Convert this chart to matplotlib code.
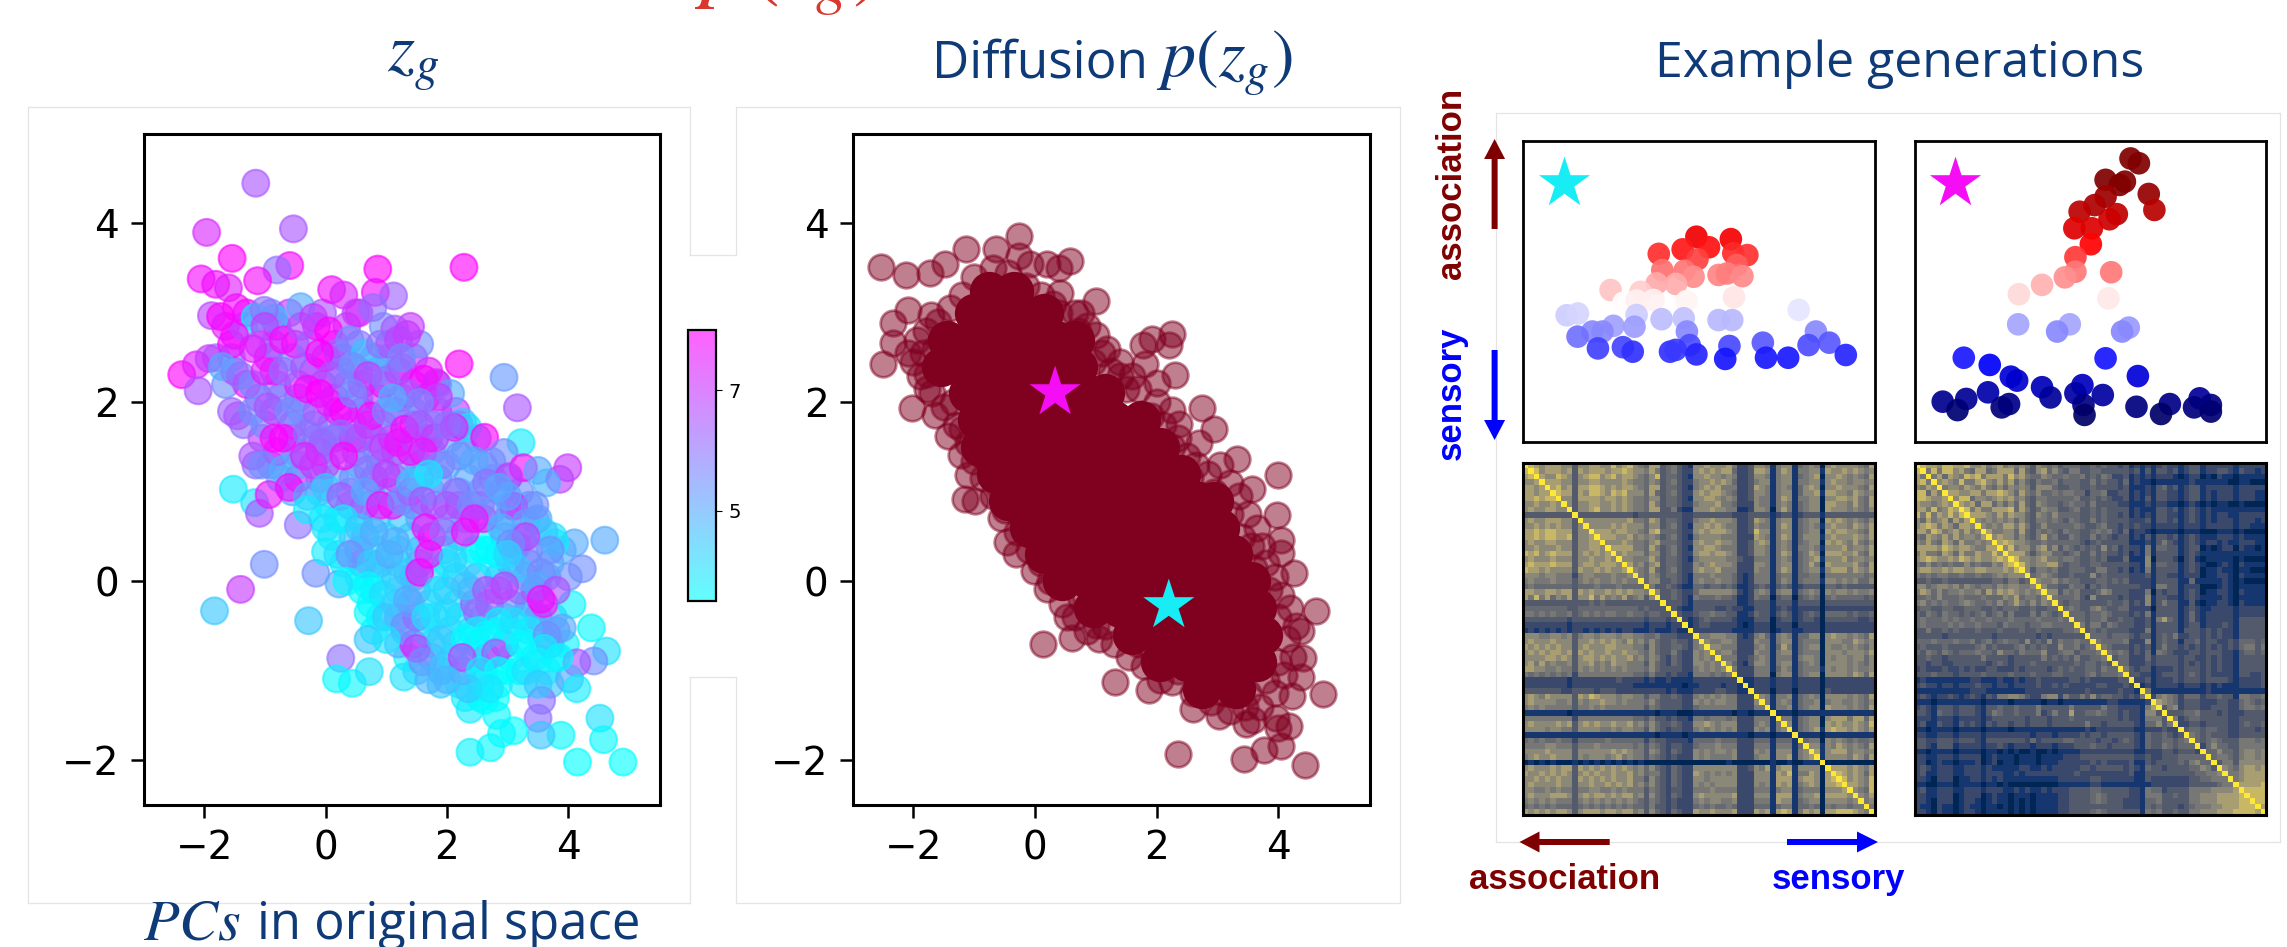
import numpy as np
import matplotlib
matplotlib.use("Agg")
import matplotlib.pyplot as plt
import matplotlib.patches as mpatches
from matplotlib.lines import Line2D
from matplotlib.transforms import IdentityTransform

# ---------- values ----------
p1_x = [-1.15,-1.96,-0.53,-1.54,-0.59,-0.8,-1.12,-2.05,-1.81,-1.6,0.86,2.28,0.82,1.12,0.1,0.3,-1.47,-1.88,-1.16,-0.85,-1.73,-0.41,-1.01,0.5,0.78,2.2,2.94,3.16,-2.37,-2.13,-1.92,-2.1,1.14,1.34,1.26,1.62,1.82,2.06,1.86,2.26,2.34,2.12,2.62,3.22,2.94,2.74,3.26,3.02,3.5,3.99,3.86,3.64,3.1,3.46,4.6,4.1,3.78,4.23,-1.52,-1.17,-1.09,-0.93,-0.45,-1.01,-1.4,-1.83,-0.28,-0.16,0.22,0.25,0.18,0.44,0.72,1.29,4.06,3.9,4.38,4.63,4.42,4.14,4.02,4.14,3.56,3.5,4.52,4.58,4.9,4.15,3.88,3.55,3.1,2.9,2.72,2.38,2.82,2.38,2.62,
 -1.5,-1.2,-1.0,-0.7,-0.4,-0.2,0.05,0.2,0.4,0.65,0.9,1.2,1.25,-1.7,-1.4,-1.2,-1.0,-0.7,-0.35,-0.1,0.1,0.45,0.7,1.0,1.35,1.55,-1.45,-1.2,-0.95,-0.6,-0.3,-0.1,0.05,0.3,0.45,0.75,1.0,1.1,1.3,1.55,1.8,2.0,-0.85,-0.7,-0.3,-0.05,0.25,0.55,0.95,1.2,1.6,1.9,2.2,2.45,-1.2,-1.05,-0.7,-0.35,-0.2,0.3,0.7,1.0,1.4,1.7,2.15,-0.6,-0.3,0.0,0.25,0.65,0.9,1.25,1.6,2.0,2.4,2.75,
 -0.3,0.0,0.3,0.55,0.8,1.15,1.65,1.95,2.45,2.9,3.3,3.6,0.0,0.2,0.4,0.75,1.05,1.35,1.7,2.1,2.6,2.85,3.15,3.15,3.55,0.35,0.7,0.95,1.35,1.55,1.85,2.3,2.65,2.95,3.5,3.8,3.55,0.7,1.0,1.3,1.65,2.0,2.5,2.5,2.85,3.1,3.35,3.65,0.7,1.0,1.5,1.9,2.3,2.65,2.8,3.2,3.6,3.85,1.6,1.95,2.25,2.55,2.85,3.3,3.5,1.7,2.0,2.35,2.7,3.5,3.0,3.45,2.65,2.85,3.3,3.7,3.05,2.3,3.0]
p1_y = [4.45,3.9,3.94,3.61,3.53,3.48,3.36,3.38,3.32,3.28,3.49,3.51,3.23,3.19,3.26,3.2,3.06,2.97,2.95,2.94,2.96,3.07,3.03,3.0,3.06,2.43,2.28,1.94,2.31,2.42,2.49,2.13,2.82,2.76,2.39,2.26,2.22,2.1,2.06,1.78,1.72,1.72,1.61,1.55,1.44,1.34,1.27,1.17,1.24,1.27,1.14,1.1,0.84,0.68,0.46,0.43,0.43,0.14,1.03,0.88,0.76,0.97,0.63,0.19,-0.09,-0.33,-0.44,0.09,-0.03,-0.86,-1.09,-1.14,-1.01,-1.07,-0.26,-0.52,-0.52,-0.78,-0.89,-0.91,-1.09,-1.2,-1.33,-1.53,-1.53,-1.77,-2.02,-2.02,-1.72,-1.72,-1.67,-1.7,-1.86,-1.91,-1.5,-1.43,-1.33,
 2.75,2.6,2.85,2.7,2.85,2.95,2.8,2.55,2.7,2.55,2.65,2.7,2.5,2.4,2.3,2.2,2.35,2.35,2.4,2.55,2.3,2.4,2.3,2.25,2.1,2.0,1.85,1.9,1.95,1.9,2.15,2.1,2.0,1.9,2.1,1.85,1.9,2.05,1.7,1.75,1.6,1.75,1.6,1.6,1.65,1.55,1.65,1.6,1.5,1.55,1.45,1.3,1.4,1.35,1.4,1.3,1.25,1.4,1.3,1.4,1.25,1.2,1.1,1.2,1.0,1.05,0.95,1.05,0.95,1.0,0.85,0.9,0.9,0.85,0.85,0.8,
 0.8,0.6,0.7,0.6,0.55,0.45,0.6,0.55,0.7,0.6,0.65,0.55,0.33,0.3,0.3,0.2,0.3,0.1,0.3,0.25,0.35,0.3,0.4,0.15,0.1,0.0,-0.05,-0.15,-0.2,0.1,-0.1,-0.05,-0.1,-0.05,-0.05,-0.1,-0.2,-0.35,-0.4,-0.5,-0.4,-0.35,-0.35,-0.55,-0.45,-0.45,-0.55,-0.6,-0.65,-0.65,-0.75,-0.65,-0.65,-0.6,-0.8,-0.7,-0.75,-0.85,-0.9,-0.95,-0.85,-1.0,-1.0,-1.0,-0.9,-1.1,-1.1,-1.2,-1.2,-1.15,0.95,0.85,1.1,1.05,0.5,0.35,0.42,0.55,0.3]
p1_c = [6.5,7.3,6.5,8,7.8,6,7.8,7.8,7.8,7.5,8,8,7.8,6.3,7.8,7.3,7.8,6.8,3.8,4.5,8,5,6,7,6,8,5.3,6.5,8,7.5,7,6.5,6.5,7,7,8,7.5,5,7,4.5,4,7.5,8,3.8,5.5,5.5,7.8,7,5,7,6.8,4.8,7.8,5,5,5,3.8,5.5,3.8,4,6.5,7.6,6,5.5,7,4.5,4.5,5.5,5,6,3.6,3.6,4,4,3.7,5,3.6,4,5.5,6.5,5,3.8,6,6,4,3.6,3.5,3.5,3.6,4.5,3.5,3.6,3.6,3.7,3.6,3.8,3.5,
 7.8,7.5,7,7.8,6.5,7,8,6,5.5,4.5,6,6.8,5.5,5,6,5.5,7.5,6,6.5,8,6.5,5.5,7,6,6.5,5.5,6.5,5.5,6.5,5.5,7.8,8,7.5,8,5.5,7.8,5.5,4.8,7.8,6.5,7,6,7.9,8,6,6.2,6,6.5,7,7.6,7.6,5.8,5.5,5,6.5,5.5,5,7.5,7,7.9,6,7,4.5,3.8,6,7.8,5,4.5,6.5,5,7.8,5.5,6.5,6.5,5.5,5.5,
 3.8,4,3.8,4.5,5,5,7.8,6,7.6,4.8,5,4.5,3.8,4,5.5,4.5,5,4.5,7.8,4.2,3.5,3.6,5.5,4.5,5.5,3.6,3.6,4.2,5,7.9,4.2,4.5,6.5,6.8,5,6.6,7.8,3.6,4.5,5.5,4,4.2,6,3.8,3.7,4,3.8,5.5,4.5,4,7,4.5,3.6,3.6,6.5,3.6,3.7,3.7,5.5,4.5,7,3.8,3.5,4,3.7,4.8,4.8,4.5,4,4.5,5,5.5,6,5,7,5.5,5.5,7.8,4.2]

# denser interior of the first cloud: (x, y, colour value)
p1_more = [(2.3,-1.3,3.8),(2.55,-1.3,3.5),(2.8,-1.3,3.5),
 (1.9,-1.15,4.5),(2.2,-1.15,4),(2.55,-1.15,3.8),(2.85,-1.15,3.6),(3.25,-1.15,3.8),(3.7,-1.15,4.5),
 (1.5,-1.0,4.5),(1.9,-1.0,5),(2.25,-1.0,5.5),(2.6,-1.0,4),(2.95,-1.0,3.5),(3.2,-1.0,3.7),(3.65,-1.0,3.8),
 (1.35,-0.85,3.7),(1.75,-0.85,5),(2.1,-0.85,4),(2.45,-0.85,3.5),(2.65,-0.85,6.8),(3.05,-0.85,3.5),(3.45,-0.85,3.8),(3.8,-0.85,3.6),
 (1.2,-0.7,5),(1.45,-0.7,7.5),(1.75,-0.7,4.5),(2.15,-0.7,3.7),(2.5,-0.7,3.6),(2.95,-0.7,6.8),(3.3,-0.7,3.6),(3.7,-0.7,6),(3.95,-0.7,3.7),
 (0.8,-0.55,3.6),(1.3,-0.55,5),(1.65,-0.55,4),(2.05,-0.55,4.2),(2.4,-0.55,3.7),(2.75,-0.55,3.6),(3.05,-0.55,3.6),(3.5,-0.55,4),(3.8,-0.55,5.5),
 (0.9,-0.4,3.8),(1.2,-0.4,5.2),(1.5,-0.4,7),(1.8,-0.4,3.9),(2.2,-0.4,4),(2.6,-0.4,4),(2.95,-0.4,4),(3.25,-0.4,4.2),(3.5,-0.4,5.5),(3.75,-0.4,5),
 (0.75,-0.25,3.6),(1.15,-0.25,4.8),(1.4,-0.25,5.2),(1.7,-0.25,4),(2.15,-0.25,3.9),(2.45,-0.25,6.5),(2.7,-0.25,6.5),(3.05,-0.25,5.5),(3.35,-0.25,5),(3.6,-0.25,7.5),
 (0.6,-0.1,3.6),(0.8,-0.1,3.7),(1.2,-0.1,4.2),(1.5,-0.1,5),(2.0,-0.1,4.5),(2.4,-0.1,5.5),(2.85,-0.1,6.8),(3.2,-0.1,6.2),(3.45,-0.1,6.5),
 (0.55,0.05,3.6),(0.85,0.05,3.7),(1.15,0.05,4.5),(1.45,0.05,5),(1.8,0.05,4),(2.15,0.05,4.5),(2.5,0.05,5),(2.85,0.05,5.5),(3.3,0.05,5),(3.65,0.05,5.5),(4.0,0.05,5.5),
 (0.3,0.2,3.6),(0.6,0.2,5.2),(0.9,0.2,4.5),(1.2,0.2,4.5),(1.55,0.2,5),(2.0,0.2,3.9),(2.35,0.2,4.2),(2.75,0.2,3.6),(3.05,0.2,5),(3.35,0.2,6),(3.7,0.2,5),
 (0.55,0.35,5.5),(0.85,0.35,4.2),(1.2,0.35,4),(1.55,0.35,5),(1.95,0.35,4.2),(2.45,0.35,3.5),(2.7,0.35,3.6),(3.1,0.35,6.5),(3.35,0.35,5.5),(3.9,0.35,5),
 (0.1,0.5,3.8),(0.45,0.5,4.5),(0.65,0.5,5),(1.0,0.5,4),(1.4,0.5,4.5),(1.75,0.5,7.8),(2.2,0.5,4.5),(2.65,0.5,3.5),(2.95,0.5,5),(3.25,0.5,5),(3.75,0.5,4),
 (-0.05,0.7,3.8),(0.2,0.7,3.7),(0.55,0.7,3.8),(0.85,0.7,4.5),(1.25,0.7,4.5),(1.55,0.7,5),(2.0,0.7,5.5),(2.3,0.7,5),(2.6,0.7,7.8),(3.0,0.7,5.5),(3.5,0.7,5),
 (0.05,0.85,4),(0.4,0.85,5),(0.65,0.85,6.8),(1.1,0.85,7.8),(1.45,0.85,5.5),(1.8,0.85,7),(2.2,0.85,7),(2.55,0.85,6),(3.05,0.85,4.8),(3.35,0.85,5),
 (-0.55,1.0,5),(-0.1,1.0,4.5),(0.4,1.0,6),(0.75,1.0,4.8),(1.05,1.0,5),(1.4,1.0,7.5),(1.75,1.0,4.5),(2.2,1.0,5.5),(2.55,1.0,5.5),(2.9,1.0,6),(3.2,1.0,5.5),
 (-0.75,1.15,4.5),(-0.45,1.15,7.5),(-0.1,1.15,6.2),(0.15,1.15,5),(0.45,1.15,5.5),(0.8,1.15,7),(1.15,1.15,7),(1.55,1.15,5.5),(1.85,1.15,5.5),(2.35,1.15,5),(2.75,1.15,5.2),(3.0,1.15,5),
 (-1.15,1.3,6),(-0.9,1.3,5.5),(-0.45,1.3,5),(0.0,1.3,6.8),(0.55,1.3,5),(0.9,1.3,5.5),(1.25,1.3,5.5),(1.55,1.3,5),(2.0,1.3,5),(2.6,1.3,5.5),
 (-0.8,1.45,7.8),(-0.5,1.45,5),(-0.1,1.45,7.5),(0.15,1.45,5.5),(0.5,1.45,6),(0.85,1.45,5.5),(1.15,1.45,6.5),(1.4,1.45,7.8),(1.75,1.45,5),(2.3,1.45,5),
 (-1.05,1.6,7),(-0.55,1.6,5.8),(-0.15,1.6,5.8),(0.15,1.6,6.2),(0.45,1.6,7.8),(0.8,1.6,6),(1.1,1.6,7.8),(1.45,1.6,5.5),(1.7,1.6,7),(2.05,1.6,5),(2.5,1.6,5.5),
 (-1.35,1.75,6),(-1.0,1.75,5.5),(-0.55,1.75,6.5),(-0.2,1.75,6),(0.1,1.75,5.8),(0.45,1.75,6),(0.7,1.75,7.9),(0.95,1.75,6),(1.45,1.75,7.8),(1.75,1.75,5),(2.2,1.75,7.8),
 (-1.55,1.9,6.3),(-0.85,1.9,7),(-0.4,1.9,5.5),(-0.15,1.9,6.5),(0.2,1.9,7.5),(0.6,1.9,6.5),(1.15,1.9,7),(1.45,1.9,5.5),(1.85,1.9,6.5),(2.15,1.9,7),
 (-1.1,2.05,6.8),(-0.75,2.05,5.5),(-0.45,2.05,6),(0.15,2.05,7.9),(0.55,2.05,5.5),(0.85,2.05,7),(1.25,2.05,6),(1.65,2.05,7.5),
 (-1.65,2.2,5.5),(-1.3,2.2,7.5),(-0.8,2.2,6),(-0.45,2.2,7.5),(-0.05,2.2,7.9),(0.35,2.2,5.8),(0.6,2.2,7),(0.95,2.2,7.8),(1.45,2.2,7),(1.85,2.2,5.5),
 (-1.5,2.35,7),(-0.85,2.35,7.8),(-0.2,2.35,7),(0.25,2.35,5.2),(0.55,2.35,6.5),(0.85,2.35,5),(1.2,2.35,7.8),(1.7,2.35,7.5),
 (-1.8,2.5,6),(-1.55,2.5,5.5),(-0.95,2.5,7.8),(-0.55,2.5,5.5),(0.0,2.5,8),(0.3,2.5,5.5),(0.8,2.5,5.5),(1.05,2.5,4.8),(1.45,2.5,7),
 (-1.55,2.65,8),(-1.1,2.65,7),(-0.85,2.65,6),(-0.5,2.65,7.8),(-0.25,2.65,6),(0.15,2.65,7.5),(0.55,2.65,6),(1.05,2.65,7.5),(1.55,2.65,5.5),
 (-1.65,2.85,7.5),(-1.35,2.85,5),(-0.8,2.85,7.5),(-0.15,2.85,7.9),(0.35,2.85,6.8),(0.95,2.85,5.5),(1.4,2.85,7),
 (-1.3,3.0,7.8),(-0.9,3.0,5.5),(-0.6,3.0,7),(-0.05,3.0,6.5),(0.55,3.0,7.5)]

p2_x = [-2.54,-2.13,-1.73,-1.48,-1.14,-0.65,-0.27,-0.26,-0.08,0.2,0.39,0.57,0.41,1.01,0.75,-2.33,-2.09,-1.72,-2.34,-2.5,-2.09,-1.78,-1.78,-2.03,-1.65,-1.44,-1.22,-1.1,-1.16,-0.98,-0.56,-0.46,-0.31,-0.01,0.2,0.52,0.13,0.61,1.01,1.32,1.88,2.26,2.35,3.43,3.76,4.04,4.44,4.23,4.74,3.96,4.17,4.0,3.58,3.47,3.02,2.6,4.38,4.41,4.38,4.62,4.26,4.04,4.05,3.98,4.0,3.57,3.73,3.32,2.94,2.75,2.7,2.26,2.21,2.3,1.92,1.77,1.81,1.39,1.19,2.26,2.37,2.0]
p2_y = [3.51,3.42,3.45,3.55,3.72,3.72,3.86,3.64,3.55,3.55,3.5,3.58,3.22,3.13,3.0,2.89,3.03,2.98,2.66,2.43,2.55,2.32,2.15,1.94,1.86,1.63,1.41,1.19,0.92,0.9,0.71,0.44,0.3,0.12,-0.09,-0.4,-0.7,-0.63,-0.49,-1.12,-1.22,-1.13,-1.93,-1.99,-1.89,-1.84,-2.05,-1.28,-1.26,-1.53,-1.62,-1.64,-1.55,-1.6,-1.51,-1.43,-1.07,-0.86,-0.55,-0.33,0.09,0.32,0.46,0.74,1.19,1.03,0.39,1.37,1.7,1.94,1.55,2.77,2.64,2.31,2.71,2.64,2.43,2.45,2.6,1.91,1.76,2.22]
p2_edge = [(-1.6,2.9),(-1.4,3.05),(-1.2,3.2),(-1.0,3.4),(-0.7,3.5),(-0.45,3.45),(-0.15,3.3),(0.1,3.2),(0.4,3.0),(0.65,3.0),(0.85,2.85),(1.0,2.75),(1.1,2.55),(1.4,2.3),(1.6,2.3),(1.7,2.15),(2.0,2.0),(2.1,1.75),(2.35,1.6),(2.5,1.4),(2.65,1.3),(2.85,1.2),(3.05,1.3),(3.2,1.1),(3.35,0.95),(3.5,0.75),(3.65,0.6),(3.55,0.4),(3.8,0.2),(3.95,0.05),(4.05,-0.15),(4.2,-0.3),(4.3,-0.5),(4.15,-0.65),(4.25,-0.85),(4.1,-1.05),(3.95,-1.25),(3.7,-1.4),(3.45,-1.4),(3.2,-1.45),(2.9,-1.35),(2.6,-1.25),(2.35,-1.0),(2.05,-1.1),(1.8,-0.95),(1.55,-0.85),(1.3,-0.7),(1.05,-0.65),(0.85,-0.55),(0.65,-0.4),(0.45,-0.25),(0.25,0.0),(0.1,0.2),(-0.1,0.35),(-0.3,0.55),(-0.5,0.8),(-0.7,0.95),(-0.85,1.15),(-1.0,1.35),(-1.1,1.55),(-1.3,1.75),(-1.5,1.95),(-1.7,2.1),(-1.9,2.3),(-2.0,2.45),(-1.95,2.7),(-1.8,2.8),
 (-1.65,2.6),(-1.85,2.55),(-1.6,2.35),(-1.35,2.0),(-1.2,1.7),(0.3,3.1),(0.7,2.8),(0.95,2.45),(1.25,2.35),(1.5,2.15),(1.9,1.85),(2.25,1.5),(2.55,1.15),(2.95,1.0),(3.2,0.75),(3.4,0.5),(3.6,0.15),(3.85,-0.1),(4.0,-0.4),(4.0,-0.9),(3.8,-1.1),(3.5,-1.25),(3.1,-1.25),(2.75,-1.15),(2.2,-0.85),(1.7,-0.7),(1.15,-0.5),(0.75,-0.2),(0.45,0.05),(0.1,0.35),(-0.25,0.75),(-0.6,1.05),(-0.85,1.4)]

core_x = [-0.75,-0.35,-1.0,-0.6,-0.2,0.15,-1.45,-1.0,-0.55,-0.1,0.35,0.65,-1.55,-1.1,-0.65,-0.2,0.25,0.7,-1.1,-0.65,-0.2,0.25,0.7,1.15,-0.95,-0.5,-0.05,0.4,0.85,1.3,1.75,-0.9,-0.45,0.0,0.45,0.9,1.35,1.8,2.05,-0.65,-0.2,0.25,0.7,1.15,1.6,2.05,2.4,-0.45,0.0,0.45,0.9,1.35,1.8,2.25,2.7,2.95,-0.1,0.35,0.8,1.25,1.7,2.15,2.6,3.05,0.15,0.6,1.05,1.5,1.95,2.4,2.85,3.25,0.45,0.9,1.35,1.8,2.25,2.7,3.15,3.55,0.95,1.4,1.85,2.3,2.75,3.2,3.65,1.6,2.05,2.5,2.95,3.4,3.75,2.05,2.5,2.95,3.4,3.65,2.75,3.3]
core_y = [3.25,3.25,3.0,3.0,3.0,3.0,2.7,2.7,2.7,2.7,2.7,2.7,2.4,2.4,2.4,2.4,2.4,2.4,2.1,2.1,2.1,2.1,2.1,2.1,1.8,1.8,1.8,1.8,1.8,1.8,1.8,1.5,1.5,1.5,1.5,1.5,1.5,1.5,1.5,1.2,1.2,1.2,1.2,1.2,1.2,1.2,1.2,0.9,0.9,0.9,0.9,0.9,0.9,0.9,0.9,0.9,0.6,0.6,0.6,0.6,0.6,0.6,0.6,0.6,0.3,0.3,0.3,0.3,0.3,0.3,0.3,0.3,0.0,0.0,0.0,0.0,0.0,0.0,0.0,0.0,-0.3,-0.3,-0.3,-0.3,-0.3,-0.3,-0.3,-0.6,-0.6,-0.6,-0.6,-0.6,-0.6,-0.9,-0.9,-0.9,-0.9,-0.9,-1.2,-1.2]

star_x = [0.33, 2.2]
star_y = [2.11, -0.27]
star_colors = ["#F50EF5", "#18EDF5"]

a_x = [49.2,59,45.3,52.8,38.5,49.5,59.7,63.7,60.7,39.5,45.8,48.4,55.5,57.9,62.3,37.9,43.4,24.8,33.3,28.5,32.2,37,46.4,59.9,12.3,15.5,32.2,39.3,45.6,55.5,59.4,78.3,25.6,31.6,22.5,19.6,15.4,46.5,83.2,47.3,68.1,87,81.1,58.6,21.2,28.3,31.1,41.7,43.3,49.2,57.4,69,75.3,91.7]
a_y = [68.2,67.4,64,64.7,62.5,60.7,62.7,62.1,58.8,57.1,56.9,54.9,55.5,56,55.1,52.7,52.5,50.5,49.9,46.3,47,47.2,46.8,48.1,42.1,42.7,42.2,40.8,41.1,40.5,40.5,43.9,38.6,38.3,36.7,36.7,35,36.7,36.7,32.2,33,33,32.2,31.9,31.1,31.5,30,30,30.6,29.1,27.6,28,28,28.9]
b_x = [61.4,63.8,54.3,59.8,58.3,66.6,68.2,54.3,51.2,46.9,57.5,55.4,45.4,50.4,50.1,45.7,45.7,42.7,36.2,29.6,55.9,55.1,29.4,44.1,40.5,60.9,59,13.9,54.3,21.3,27.3,29.1,63.5,7.9,14.6,12.1,20.8,26.8,24.7,36.2,38.6,47.7,45.7,53.5,48,48.3,63.1,72.6,70.1,81.1,79.5,84.3,84.3]
b_y = [94.2,92.6,87.1,86.5,85.4,82.4,77.1,81.5,78.7,76.5,75.7,74,71,71,65.7,61.4,56.6,54.7,52.2,49.1,56.4,47.7,39.1,39.1,36.7,38,36.7,28,27.8,25.6,21.7,20.4,21.9,13.4,14.3,10.6,16.5,12.6,11.5,18.2,14.8,18.9,16.2,15.6,12.3,9,11.7,12.6,9.3,14.5,11.5,12.3,10.1]

# lower triangles of the two similarity matrices, one digit per cell (0 dark ... 9 bright)
digit_levels = [0.02, 0.12, 0.22, 0.32, 0.40, 0.48, 0.57, 0.68, 0.80, 1.0]
mat_a_rows = """
8
78
667
7767
77677
778788
6676676
67667766
333333333
6766777663
6676767663 6
7787887773 66
7787887783 667
6766776663 6677
6676667663 66776
8786787773 676767
6766676663 6676676
7877787773 67767776
8776766663 766767667
6665665552 5665556556
5655565553 5656556565 5
4544444443 4445444544 44
7766776773 7676676767 665
7585746573 6685756574 5636
3333333333 3343433333 3333 3
4444444433 4444444444 4343 33
5545454453 4545455445 4434 433
3333333323 3333333333 3323 3323
2222222212 2222222222 2212 22122
1212121212 2121212122 1112 111211
6665566563 5665666566 5544533322 2
6766676663 6676767657 5646433433 25
7676767663 6766677666 5536433443 256
6767677673 7676676676 6546433532 2656
6666776763 6776767667 5646532432 26565
6757565563 6675657665 5536432432 266565
7766556553 6565656565 5546433332 2565656
5454545452 5555555555 4435332322 15554545
2222222212 2222222322 2212112111 122222222
2222222212 2222222222 1111111110 1122221221
3333333223 3332333222 2222221211 1222233221 1
6765766663 7687666566 5535533432 2565656552 22
6766665563 6566766565 5546433332 2656566552 226
5656555553 5565655555 5535433332 2455555552 2255
1111111101 1111111111 1111011100 0111111101 10111
5555555552 5555555555 4435332322 1554555452 225551
6766667673 6767667667 5646433432 2667656662 2256515
6666566553 6666556566 5536432332 2565656562 22656156
1111111111 1111111111 1111011110 1111111111 101110111
4545445442 4444454444 4424332222 1444454442 2244414441
5555665553 5556555555 4535432332 2455565552 2255515551 4
6666766663 6666667676 5536532432 2656566562 2265616661 56
5676676663 6566656756 5535432322 2656555562 2256616671 567
0101010001 0101010101 0100000000 0000000100 0000010010 0111
6766676773 7676767676 5646432432 2666666662 2365716771 66660
7667676763 6767667667 5645532432 2765656562 2266617681 557607
6676767663 7676767667 5536432432 2665666662 2266617771 6776078
6766667663 6676676767 5646432432 2656566662 2265617671 56760778
6655656553 5566556565 5535432332 2555655552 2255515661 455506667
6766677763 6767767677 5636432432 2676666672 2266617771 5667077776
5656565553 5656565656 5435432322 2565665562 2255517661 4566066665 6
4545454443 4545454545 4435332322 2454544542 2244414551 4454054554 55
7676767763 6777677677 5636432432 2766766672 2276717871 5767077888 765
""".strip().split("\n")

mat_b_rows = """
8
75
785
6576
88475
887667
7665676
77585687
858576868
6475674757
6787576477 6
7758756757 56
5476575756 657
6575476475 5656
7777687677 65577
5755476475 576686
6787667687 6766787
5464545446 45446578
6776676776 677666768
5454554454 4544565666
3343343333 3333443553 4
6645665646 5455465665 56
5764645565 5647576765 656
4454644454 4454446574 5546
5645454456 5445464575 4646 5
3443344334 4433434443 3433 44
4354354434 3453453533 3535 434
4544454544 5445444544 4454 4454
4544445454 4544435444 344554444
3353343433 3433343334 3343333445
3333323333 3333233333 3323233333 3
4445444544 5345345443 6343635445 44
3433343333 3453433345 3434336445 345
4354354344 4544364435 4446334553 4445
3343323333 3353333233 3335343435 33445
3323322333 3332343233 3433333334 344343
2322232232 3223322232 3333234343 3443544
3334333233 3343333433 3433344333 34534445
1211111111 2211121121 2232222233 232222233
2322122122 2322122122 2232232322 2223322232
1111111111 2221111111 2222222222 2322222322 1
2321223212 3213255665 3225662533 5363443323 25
1110111111 1101111011 1110110111 1111122111 112
2321333233 3213343343 3353333353 3333533222 2157
3321433233 3213543343 3352353373 3445433232 21663
2221222122 2212333333 2333233343 3333333232 215553
2311322132 3213233233 2333233333 3533233333 2144635
1101111011 1101111011 1111111111 1212222222 11222322
2211222122 2212222222 2122212222 3233233333 214334323
3322333233 3213333333 2423333443 3332332343 2143344345
3321333122 2212232122 2122212223 3343323333 2143354344 4
1101111011 1101101010 0100101111 2222222222 1122233233 32
2211222122 2201211101 1101111222 3333333333 2232233344 444
2201211011 1201201101 1101112222 2232322223 1132333343 5644
2321222112 2212111112 2112122222 3323333323 2143323333 44653
2311222112 2212221121 2222222223 2222222223 1133333333 344556
2210222011 2212121111 1111112222 2233222222 1132222222 3344555
1100111011 1101101000 0000001111 1122111111 1112222222 33333455
2311222112 2212221121 2112122233 3344333332 2154423333 555566667
2211222012 2201211011 1011112233 3345433332 2155533433 5566677778
2210222012 2101211010 1011112233 3345433322 2144533333 5566677778 8
2110211012 1101101010 1011112233 3333333322 2143433323 4555667778 88
2210211012 2101111010 1011112233 3345433333 3154533433 5566677788 887
""".strip().split("\n")

title_left = r"$z_g$"
title_mid_word = "Diffusion"
title_mid_math = r"$p(z_g)$"
title_right = "Example generations"
title_red = r"$p(z_g)$"
bottom_math = r"$PCs$"
bottom_word = "in original space"
ticks_x = [-2, 0, 2, 4]
ticks_y = [-2, 0, 2, 4]
cbar_ticks = [5, 7]
cbar_range = (3.5, 8.0)
dot_range = (6, 86)

# ---------- helpers ----------
W, H = 2287, 947
plt.rcParams["font.family"] = ["DejaVu Sans"]
plt.rcParams["mathtext.fontset"] = "stix"
NAVY = "#0F3A78"
fig = plt.figure(figsize=(W / 100, H / 100), dpi=100, facecolor="white")

def box(l, t, r, b):
    return fig.add_axes([l / W, 1 - b / H, (r - l) / W, (b - t) / H])

def txt(x, y, s, **kw):
    kw.setdefault("va", "baseline")
    return fig.text(x / W, 1 - y / H, s, **kw)

def seg(x0, y0, x1, y1, color="#E4E4E4", lw=0.9):
    fig.add_artist(Line2D([x0 / W, x1 / W], [1 - y0 / H, 1 - y1 / H], color=color, lw=lw,
                          transform=fig.transFigure, zorder=0))

def arrow(x0, y0, x1, y1, color, head):
    fig.add_artist(mpatches.FancyArrow(x0, H - y0, x1 - x0, -(y1 - y0), width=6, head_width=21,
                                       head_length=head, length_includes_head=True, color=color,
                                       lw=0, transform=IdentityTransform(), zorder=5))

def matrix(rows):
    out = np.ones((64, 64))
    for i, s in enumerate(rows, start=1):
        s = s.replace(" ", "").ljust(i, "4")[:i]
        for j, ch in enumerate(s):
            out[i, j] = out[j, i] = digit_levels[int(ch)]
    return out

# ---------- panel outlines ----------
for (a, b, c, d) in [(28, 107, 690, 107), (28, 903, 690, 903), (28, 107, 28, 903),
                     (690, 107, 690, 255), (690, 677, 690, 903), (690, 255, 736, 255),
                     (690, 677, 736, 677), (736, 107, 736, 255), (736, 677, 736, 903),
                     (736, 107, 1400, 107), (736, 903, 1400, 903), (1400, 107, 1400, 903),
                     (1496, 113, 2280, 113), (1496, 842, 2280, 842), (1496, 113, 1496, 842),
                     (2280, 113, 2280, 842)]:
    seg(a, b, c, d)

def style(ax):
    ax.set_xlim(-3.0, 5.51)
    ax.set_ylim(-2.5, 5.0)
    ax.set_xticks(ticks_x)
    ax.set_yticks(ticks_y)
    ax.tick_params(labelsize=28, length=9.5, width=1.8, pad=8)
    for sp in ax.spines.values():
        sp.set_linewidth(2.2)

# ---------- scatter 1 ----------
ax1 = box(143.5, 134, 660, 805)
all_x = [m[0] for m in p1_more] + p1_x
all_y = [m[1] for m in p1_more] + p1_y
all_c = [m[2] for m in p1_more] + p1_c
sc = ax1.scatter(all_x, all_y, c=all_c, cmap="cool", vmin=cbar_range[0], vmax=cbar_range[1],
                 s=375, alpha=0.62, edgecolors="face", linewidths=1.5)
style(ax1)

cax = box(688, 330, 715.5, 601)
cb = fig.colorbar(sc, cax=cax)
cb.set_ticks(cbar_ticks)
cb.ax.tick_params(labelsize=14, length=4.5, width=0.8, pad=5)
cb.outline.set_linewidth(1.6)

# ---------- scatter 2 ----------
ax2 = box(852.7, 134, 1370, 805)
BURG = "#800020"
ax2.scatter(core_x, core_y, color=BURG, s=800, linewidths=0, zorder=2)
ax2.scatter(p2_x + [e[0] for e in p2_edge], p2_y + [e[1] for e in p2_edge], color=BURG, s=340,
            alpha=0.5, edgecolors=BURG, linewidths=2, zorder=3)
ax2.scatter(star_x, star_y, c=star_colors, marker="*", s=1500, linewidths=0, zorder=4)
style(ax2)

# ---------- dot panels ----------
def dots(ax, xs, ys, star):
    ax.scatter(xs, ys, c=ys, cmap="seismic", vmin=dot_range[0], vmax=dot_range[1], s=265,
               linewidths=0, alpha=0.92)
    ax.scatter([11.5], [85.9], color=star, marker="*", s=1500, linewidths=0)
    ax.set_xlim(0, 100)
    ax.set_ylim(0, 100)
    ax.set_xticks([])
    ax.set_yticks([])
    for sp in ax.spines.values():
        sp.set_linewidth(2.0)

dots(box(1523.4, 141, 1875, 442), a_x, a_y, star_colors[1])
dots(box(1915, 141, 2266, 442), b_x, b_y, star_colors[0])

# ---------- matrices ----------
for rows, rect in [(mat_a_rows, (1523.4, 463, 1875, 815)), (mat_b_rows, (1915, 463, 2266, 815))]:
    ax = box(*rect)
    ax.imshow(matrix(rows), cmap="cividis", vmin=0, vmax=1, aspect="auto", interpolation="nearest")
    ax.set_xticks([])
    ax.set_yticks([])
    for sp in ax.spines.values():
        sp.set_linewidth(2.2)

# ---------- arrows ----------
DRED = "#7F0000"
BLUE = "#0000FF"
arrow(1494.6, 229, 1494.6, 139, DRED, 20)
arrow(1494.6, 350, 1494.6, 440, BLUE, 20)
arrow(1609.7, 842, 1519.5, 842, DRED, 20)
arrow(1787, 842, 1878, 842, BLUE, 21)

# ---------- words ----------
opens = dict(family="Open Sans", color=NAVY)
txt(413, 72, title_left, ha="center", color=NAVY, fontsize=50)
txt(932, 77, title_mid_word, fontsize=37, **opens)
txt(1156, 77, title_mid_math, color=NAVY, fontsize=49)
txt(1655, 77, title_right, fontsize=36, **opens)
txt(788, -10, title_red, ha="center", color="#D9372F", fontsize=67, fontweight="bold")
txt(143, 939, bottom_math, color=NAVY, fontsize=42)
txt(257, 939, bottom_word, fontsize=36.5, **opens)

bold = dict(family="Liberation Sans", fontweight="bold", fontsize=25)
txt(1565, 889, "association", ha="center", color=DRED, **bold)
txt(1838, 889, "sensory", ha="center", color=BLUE, **bold)
fig.text(1451.5 / W, 1 - 183 / H, "association", ha="center", va="center", rotation=90, color=DRED, **bold)
fig.text(1451.5 / W, 1 - 393 / H, "sensory", ha="center", va="center", rotation=90, color=BLUE, **bold)

fig.savefig("out.png", dpi=100, facecolor="white")
